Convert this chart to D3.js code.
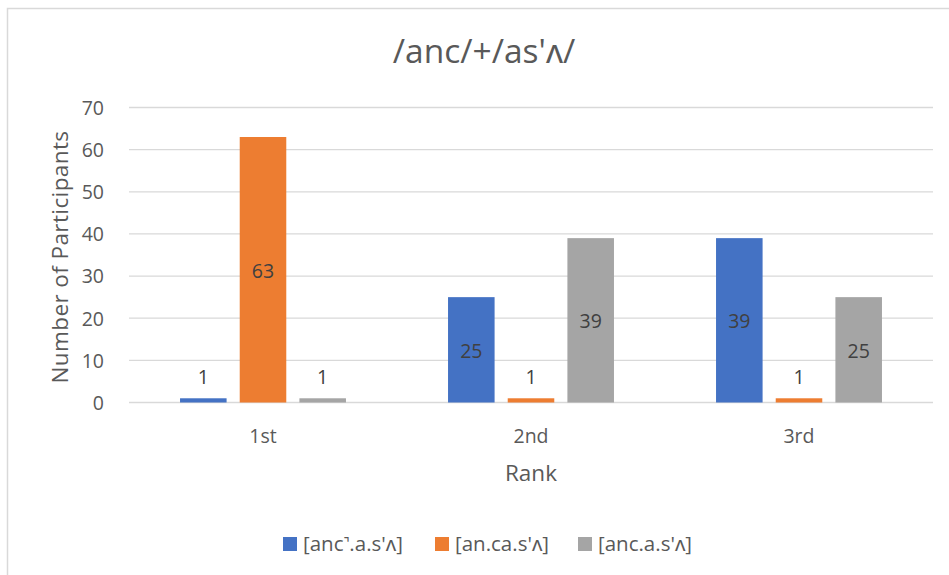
<!DOCTYPE html>
<html>
<head>
<meta charset="utf-8">
<script src="https://cdn.jsdelivr.net/npm/d3@7"></script>
<style>
  html, body { margin: 0; padding: 0; background: #fff; }
  svg { display: block; font-family: "Open Sans", "Noto Sans", sans-serif; }
</style>
</head>
<body>
<svg id="chart" width="949" height="575"></svg>
<script>
// Ranking data: participants choosing each syllabification per rank
const ranks = ["1st", "2nd", "3rd"];
const seriesNames = ["[anc\u02FA.a.s'\u028C]", "[an.ca.s'\u028C]", "[anc.a.s'\u028C]"];
const seriesColors = ["#4472c4", "#ed7d31", "#a5a5a5"];
const unreleased = [1, 25, 39];
const resyllabified = [63, 1, 1];
const coda = [1, 39, 25];
const yTicks = [0, 10, 20, 30, 40, 50, 60, 70];

const seriesValues = [unreleased, resyllabified, coda];

const svg = d3.select("#chart");
const textColor = "#595959";

// Chart frame
svg.append("rect")
  .attr("x", 7.5).attr("y", 8.5)
  .attr("width", 960).attr("height", 600)
  .attr("fill", "#fff").attr("stroke", "#d9d9d9").attr("stroke-width", 1.5);

const plot = { left: 129, right: 933, top: 107.5, bottom: 402.5 };

const x = d3.scaleBand().domain(ranks).range([plot.left, plot.right]).paddingInner(0).paddingOuter(0);
const xs = d3.scaleBand().domain(d3.range(seriesNames.length))
  .range([0, x.bandwidth()]).paddingInner(0.22).paddingOuter(0.855);
const y = d3.scaleLinear().domain([0, 70]).range([plot.bottom, plot.top]);

// Gridlines
svg.append("g").selectAll("line").data(yTicks).join("line")
  .attr("x1", plot.left).attr("x2", plot.right)
  .attr("y1", d => y(d)).attr("y2", d => y(d))
  .attr("stroke", "#d9d9d9").attr("stroke-width", 1.3);

// Y axis tick labels
const yAxis = d3.axisLeft(y).tickValues(yTicks).tickSize(0).tickPadding(0);
const gy = svg.append("g").attr("transform", `translate(${plot.left - 25},0)`).call(yAxis);
gy.select(".domain").remove();
gy.selectAll("text").attr("fill", textColor).attr("font-size", 19.5)
  .attr("font-family", "Open Sans, sans-serif").attr("dy", "0.35em");

// Bars
const groups = svg.append("g").selectAll("g").data(ranks).join("g")
  .attr("transform", d => `translate(${x(d)},0)`);

groups.each(function(rank, ri) {
  const g = d3.select(this);
  seriesValues.forEach((vals, si) => {
    const v = vals[ri];
    g.append("rect")
      .attr("x", xs(si)).attr("width", xs.bandwidth())
      .attr("y", y(v)).attr("height", y(0) - y(v))
      .attr("fill", seriesColors[si]);
    const inside = (y(0) - y(v)) > 30;
    g.append("text")
      .attr("x", xs(si) + xs.bandwidth() / 2)
      .attr("y", inside ? (y(v) + y(0)) / 2 + 1 : y(v) - 21)
      .attr("dy", "0.35em")
      .attr("text-anchor", "middle")
      .attr("font-size", 19.5)
      .attr("fill", "#404040")
      .text(v);
  });
});

// X axis labels
const xAxis = d3.axisBottom(x).tickSize(0).tickPadding(0);
const gx = svg.append("g").attr("transform", `translate(0,${plot.bottom + 34})`).call(xAxis);
gx.select(".domain").remove();
gx.selectAll("text").attr("fill", textColor).attr("font-size", 19.5)
  .attr("font-family", "Open Sans, sans-serif").attr("dy", "0.35em");

// Title
svg.append("text").attr("x", 484).attr("y", 51).attr("dy", "0.35em")
  .attr("text-anchor", "middle").attr("font-size", 33.5).attr("fill", textColor)
  .text("/anc/+/as'\u028C/");

// Axis titles
svg.append("text").attr("x", (plot.left + plot.right) / 2).attr("y", 473).attr("dy", "0.35em")
  .attr("text-anchor", "middle").attr("font-size", 22.5).attr("fill", textColor)
  .text("Rank");
svg.append("text")
  .attr("transform", `translate(60,${(plot.top + plot.bottom) / 2 + 2}) rotate(-90)`)
  .attr("dy", "0.35em").attr("text-anchor", "middle").attr("font-size", 22.5)
  .attr("letter-spacing", 0.4).attr("fill", textColor)
  .text("Number of Participants");

// Legend
const legendX = [283, 435, 578];
const legend = svg.append("g").selectAll("g").data(seriesNames).join("g")
  .attr("transform", (d, i) => `translate(${legendX[i]},544)`);
legend.append("rect").attr("x", 0).attr("y", -7).attr("width", 14).attr("height", 14)
  .attr("fill", (d, i) => seriesColors[i]);
legend.append("text").attr("x", 20).attr("y", 0).attr("dy", "0.35em")
  .attr("font-size", 20.5).attr("fill", textColor).text(d => d);
</script>
</body>
</html>
